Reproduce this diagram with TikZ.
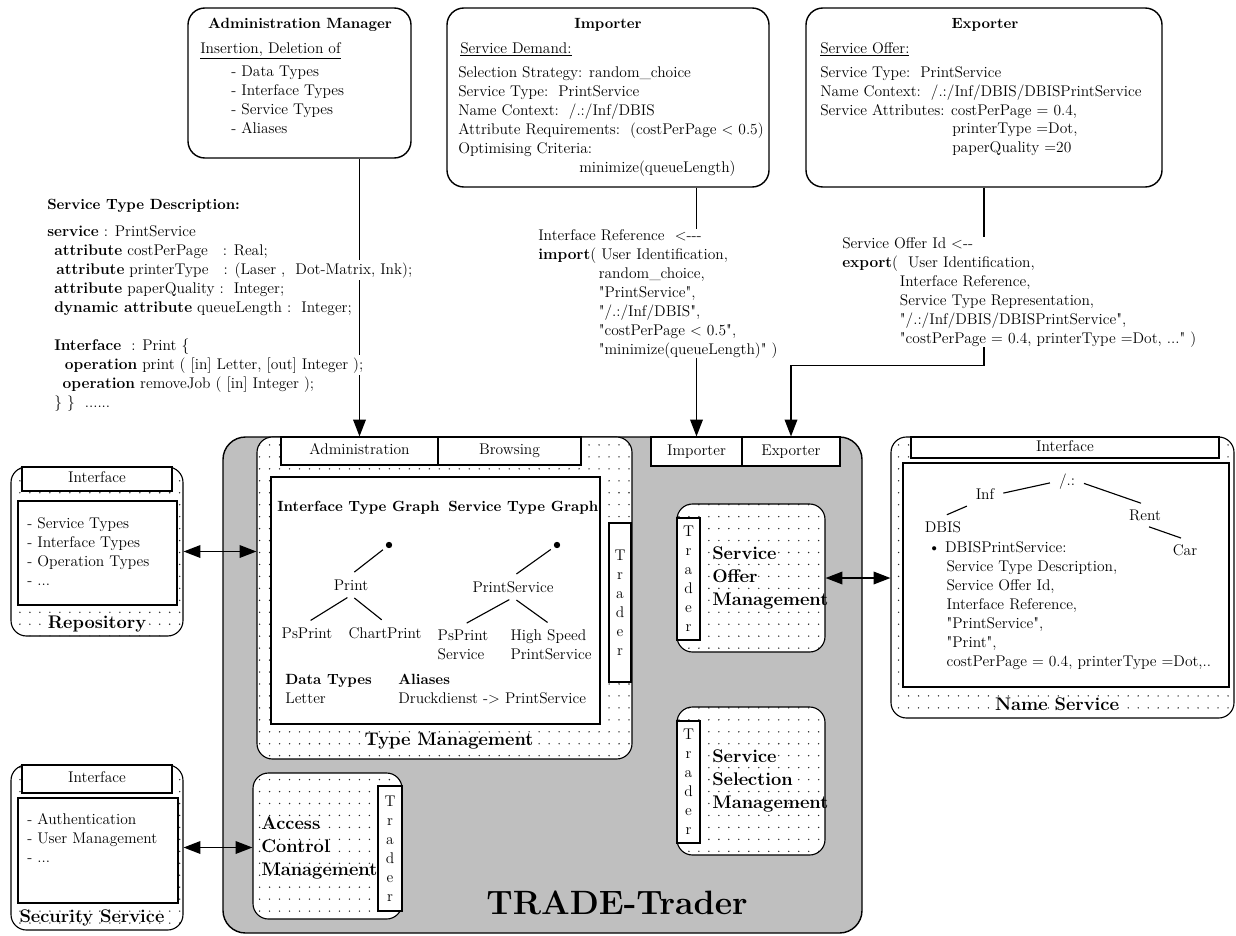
\documentclass[tikz,border=0pt]{standalone}
\usepackage{tikz}
\usetikzlibrary{arrows.meta,fit,patterns,positioning}

\pgfdeclarepatternformonly{sparse dots}{\pgfqpoint{-1pt}{-1pt}}{\pgfqpoint{1pt}{1pt}}{\pgfqpoint{7.1pt}{8.5pt}}{%
  \pgfpathcircle{\pgfpointorigin}{0.55pt}\pgfusepath{fill}}
\newcommand{\dsh}{\mbox{-}}
% straight double quote (no tex-text mapping)
\font\qfont="[lmroman10-regular]" at 11pt
\newcommand{\qq}{{\qfont"}}

\begin{document}
\begin{tikzpicture}[x=0.025cm, y=-0.025cm, font=\fontsize{11}{13.5}\selectfont,
    rbox/.style={draw, line width=1pt, rounded corners=12pt, fill=white, inner sep=0pt},
    dotbox/.style={draw, line width=0.8pt, rounded corners=11pt, preaction={fill=white},
      pattern=sparse dots, pattern color=black!85, inner sep=0pt},
    tab/.style={draw, line width=0.8pt, fill=white, inner sep=0pt},
    tabtxt/.style={text height=1.6ex, text depth=0.3ex},
    txt/.style={anchor=north west, inner sep=0pt, align=left},
    hd/.style={font=\fontsize{10.5}{13.5}\selectfont\bfseries},
    big/.style={font=\fontsize{13}{16.4}\selectfont\bfseries},
    tl/.style={line width=0.8pt, shorten <=3pt, shorten >=3pt},
    arr/.style={line width=1pt, -{Triangle[length=12pt,width=9pt]}},
    dblarr/.style={line width=1pt, {Triangle[length=12pt,width=9pt]}-{Triangle[length=12pt,width=9pt]}}]
  \useasboundingbox (0,0) rectangle (1236,935);

  % top boxes
  \node[rbox, fit={(188,8) (411,158)}] (admin) {};
  \node[rbox, fit={(447,8) (769,187)}] (imp) {};
  \node[rbox, fit={(806,8) (1162,187)}] (exp) {};

  % the trader
  \node[draw, line width=1pt, rounded corners=16pt, fill=black!25, inner sep=0pt,
    fit={(223,437) (862,933)}] (trader) {};
  \node[font=\fontsize{24}{28}\selectfont\bfseries] (tradertxt) at (617,903) {TRADE-Trader};

  \node[dotbox, fit={(257,437) (632,759)}] (typemgmt) {};
  \node[tab, fit={(281,437) (438,465)}] (admtab) {};
  \node[tabtxt] (admtabtxt) at (admtab) {Administration};
  \node[tab, fit={(438,437) (581,465)}] (brwtab) {};
  \node[tabtxt] (brwtabtxt) at (brwtab) {Browsing};
  \node[draw, line width=0.8pt, fill=white, inner sep=0pt, fit={(271,477) (600,724)}] (tmin) {};
  \node[tab, fit={(609,523) (631,682)}] (tmtrd) {};
  \node[align=center] (tmtrdtxt) at (tmtrd) {T\\r\\a\\d\\e\\r};
  \node[big] (tmtxt) at (449,741) {Type Management};

  \node[tab, fit={(651,437) (742,466)}] (imptab) {};
  \node[tabtxt] (imptabtxt) at (imptab) {Importer};
  \node[tab, fit={(742,437) (840,466)}] (exptab) {};
  \node[tabtxt] (exptabtxt) at (exptab) {Exporter};

  \node[dotbox, fit={(677,504) (825,652)}] (offer) {};
  \node[tab, fit={(677,518) (700,640)}] (offtrd) {};
  \node[align=center] (offtrdtxt) at (offtrd) {T\\r\\a\\d\\e\\r};
  \node[big, anchor=west, align=left, inner sep=0pt] (offtxt) at (712,578) {Service\\Offer\\Management};

  \node[dotbox, fit={(677,707) (825,855)}] (select) {};
  \node[tab, fit={(677,721) (700,843)}] (seltrd) {};
  \node[align=center] (seltrdtxt) at (seltrd) {T\\r\\a\\d\\e\\r};
  \node[big, anchor=west, align=left, inner sep=0pt] (seltxt) at (712,781) {Service\\Selection\\Management};

  \node[dotbox, fit={(253,773) (402,919)}] (access) {};
  \node[tab, fit={(378,786) (402,911)}] (acctrd) {};
  \node[align=center] (acctrdtxt) at (acctrd) {T\\r\\a\\d\\e\\r};
  \node[big, anchor=west, align=left, inner sep=0pt] (acctxt) at (261,848) {Access\\Control\\Management};

  % type graphs
  \node[hd, anchor=west, inner sep=0pt] (itg) at (277,508) {Interface Type Graph};
  \node[hd, anchor=west, inner sep=0pt] (stg) at (448,508) {Service Type Graph};
  \node[circle, fill, inner sep=1.6pt] (itroot) at (389,545) {};
  \node (print) at (351,585) {Print};
  \node (psprint) at (307,633) {PsPrint};
  \node (chart) at (385,633) {ChartPrint};
  \node[circle, fill, inner sep=1.6pt] (stroot) at (557,545) {};
  \node (prsrv) at (513,587) {PrintService};
  \node[align=left] (pssrv) at (463,645) {PsPrint\\Service};
  \node[align=left] (hssrv) at (551,645) {High Speed\\PrintService};
  \draw[tl] (itroot) -- (print.north);
  \draw[tl] (print.south) -- (psprint.north);
  \draw[tl] (print.south) -- (chart.north);
  \draw[tl] (stroot) -- (prsrv.north);
  \draw[tl] (prsrv.south) -- (pssrv.north);
  \draw[tl] (prsrv.south) -- (hssrv.north);
  \node[txt] (dtypes) at (285,674) {{\bfseries\fontsize{10.5}{13.5}\selectfont Data Types}\\Letter};
  \node[txt] (alias) at (398,674) {{\bfseries\fontsize{10.5}{13.5}\selectfont Aliases}\\Druckdienst -> PrintService};

  % repository
  \node[dotbox, fit={(11,467) (183,636)}] (repo) {};
  \node[tab, fit={(22,467) (172,491)}] (repotab) {};
  \node[tabtxt] (repotabtxt) at (repotab) {Interface};
  \node[draw, line width=0.8pt, fill=white, inner sep=0pt, fit={(18,501) (177,605)}] (repoin) {};
  \node[txt] (repolist) at (27,517) {- Service Types\\- Interface Types\\- Operation Types\\- ...};
  \node[big] (repotxt) at (97,624) {Repository};

  % security service
  \node[dotbox, fit={(11,765) (183,930)}] (sec) {};
  \node[tab, fit={(22,765) (172,793)}] (sectab) {};
  \node[tabtxt] (sectabtxt) at (sectab) {Interface};
  \node[draw, line width=0.8pt, fill=white, inner sep=0pt, fit={(18,798) (178,903)}] (secin) {};
  \node[txt] (seclist) at (27,813) {- Authentication\\- User Management\\- ...};
  \node[big] (sectxt) at (92,918) {Security Service};

  % name service
  \node[dotbox, fit={(891,437) (1234,718)}] (names) {};
  \node[tab, fit={(911,437) (1219,458)}] (nstab) {};
  \node[tabtxt] (nstabtxt) at (nstab) {Interface};
  \node[draw, line width=0.8pt, fill=white, inner sep=0pt, fit={(903,463) (1229,687)}] (nsin) {};
  \node[big] (nstxt) at (1057,704) {Name Service};
  \node (nsroot) at (1067,482) {/.:};
  \node (inf) at (985,494) {Inf};
  \node (rent) at (1145,515) {Rent};
  \node (dbis) at (943,527) {DBIS};
  \node (car) at (1185,550) {Car};
  \draw[tl] (inf.east) -- (nsroot.west);
  \draw[tl] (nsroot.east) -- (rent.north);
  \draw[tl] (dbis.north) -- (inf.south west);
  \draw[tl] (rent.south) -- (car.north);
  \node[txt] (nslist) at (928,541) {\textbullet\ DBISPrintService:\\
    \hspace*{13pt}Service Type Description,\\
    \hspace*{13pt}Service Offer Id,\\
    \hspace*{13pt}Interface Reference,\\
    \hspace*{13pt}\qq PrintService\qq,\\
    \hspace*{13pt}\qq Print\qq,\\
    \hspace*{13pt}costPerPage = 0.4, printerType =Dot,..};

  % connectors
  \draw[arr] (admin.south -| admtab) -- (admtab.north);
  \draw[arr] (imp.south -| imptab) -- (imptab.north);
  \draw[arr] (exp.south) -- ++(0,178) -| (exptab.north);
  \draw[dblarr] (repo.east) -- (repo.east -| typemgmt.west);
  \draw[dblarr] (sec.east) -- (sec.east -| access.west);
  \draw[dblarr] (offer.east) -- (offer.east -| names.west);

  % box texts
  \node[hd] (admhd) at (300,25) {Administration Manager};
  \node[txt] (admul) at (200,42) {\underline{Insertion, Deletion of}};
  \node[txt] (admlist) at (231,66) {- Data Types\\- Interface Types\\- Service Types\\- Aliases};

  \node[hd] (imphd) at (608,25) {Importer};
  \node[txt] (impul) at (460,42) {\underline{Service Demand:}};
  \node[txt] (implist) at (458,66) {Selection Strategy: random\_choice\\
    Service Type:\ \ PrintService\\
    Name Context:\ \ /.:/Inf/DBIS\\
    Attribute Requirements:\ \ (costPerPage < 0.5)\\
    Optimising Criteria:};
  \node[txt] (impmin) at (579,161) {minimize(queueLength)};

  \node[hd] (exphd) at (985,25) {Exporter};
  \node[txt] (expul) at (820,42) {\underline{Service Offer:}};
  \node[txt] (explist) at (820,66) {Service Type:\ \ PrintService\\
    Name Context:\ \ /.:/Inf/DBIS/DBISPrintService\\
    Service Attributes: costPerPage = 0.4,};
  \node[txt] (expattr) at (952,123) {printerType =Dot,\\paperQuality =20};

  % service type description
  \setlength{\fboxsep}{1.5pt}
  \node[txt, hd] (stdhd) at (47,199) {Service Type Description:};
  \node[txt] (stdtxt) at (47,225) {\textbf{service}\ : PrintService\\
    \hspace*{5pt}\textbf{attribute} costPerPage\ \ \ : Real;\\
    \hspace*{5pt}\colorbox{white}{\textbf{attribute} printerType\ \ \ : (Laser ,\ \ Dot-Matrix, Ink);}\\
    \hspace*{5pt}\textbf{attribute} paperQuality :\ \ Integer;\\
    \hspace*{5pt}\textbf{dynamic attribute} queueLength :\ \ Integer;\\
    ~\\
    \hspace*{5pt}\textbf{Interface}\ \ : Print \{\\
    \hspace*{11pt}\colorbox{white}{\textbf{operation} print ( [in] Letter, [out] Integer );}\\
    \hspace*{11pt}\textbf{operation} removeJob ( [in] Integer );\\
    \hspace*{5pt}\} \}\ \ ......};

  % import / export calls
  \node[txt, fill=white] (imptxt) at (538,229) {Interface Reference\ \ <\dsh\dsh\dsh\\
    \textbf{import}( User Identification,\\
    \hspace*{43pt}random\_choice,\\
    \hspace*{43pt}\qq PrintService\qq,\\
    \hspace*{43pt}\qq/.:/Inf/DBIS\qq,\\
    \hspace*{43pt}\qq costPerPage < 0.5\qq,\\
    \hspace*{43pt}\qq minimize(queueLength)\qq\ )};
  \node[txt, fill=white] (exptxt) at (842,237) {Service Offer Id <\dsh\dsh\\
    \textbf{export}(\ \ User Identification,\\
    \hspace*{41pt}Interface Reference,\\
    \hspace*{41pt}Service Type Representation,\\
    \hspace*{41pt}\qq/.:/Inf/DBIS/DBISPrintService\qq,\\
    \hspace*{41pt}\qq costPerPage = 0.4, printerType =Dot, ...\qq\ )};
\end{tikzpicture}
\end{document}
